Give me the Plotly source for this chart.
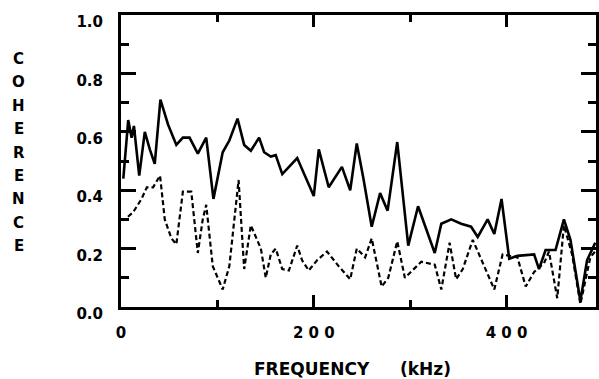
import plotly.graph_objects as go

# Coherence spectra, frequency in kHz
freq_solid = [2.4, 7.5, 11, 13.4, 18.9, 24.7, 29.9, 35, 40.9, 48.8, 57.4, 64.2, 71.1, 79.7,
              88.4, 95.9, 105.5, 112.4, 120.9, 127.8, 134.7, 143.3, 148.5, 155.4, 160.5,
              167.3, 182.8, 200, 205.2, 215.5, 229.2, 237.8, 244.6, 251.5, 260.1, 268.8,
              276.6, 286.6, 298, 308.2, 325.5, 332.3, 342.6, 352.9, 363.2, 370.1, 380.4,
              387.3, 394.8, 402.8, 411.3, 428.6, 433.7, 440.5, 450.8, 459.5, 466.3, 476.6,
              483.5, 492]
coh_solid = [0.44, 0.64, 0.58, 0.62, 0.45, 0.60, 0.54, 0.49, 0.71, 0.625, 0.555, 0.58, 0.58,
             0.525, 0.58, 0.37, 0.53, 0.57, 0.645, 0.555, 0.535, 0.58, 0.53, 0.515, 0.52,
             0.455, 0.51, 0.38, 0.54, 0.41, 0.48, 0.40, 0.56, 0.44, 0.275, 0.39, 0.33, 0.565,
             0.21, 0.345, 0.185, 0.285, 0.30, 0.285, 0.275, 0.24, 0.30, 0.25, 0.37, 0.165,
             0.175, 0.18, 0.13, 0.195, 0.195, 0.30, 0.23, 0.02, 0.16, 0.22]

freq_dashed = [0, 4.1, 12.7, 21.3, 26.8, 33.3, 40.5, 45.4, 52.3, 57.4, 64.2, 72.9, 79.7, 84.8,
               88.4, 95.2, 105.5, 112.4, 122, 127.8, 134.7, 145.1, 150.2, 155.4, 160.5, 167.3,
               174.2, 182.8, 187.9, 194.8, 203.4, 213.7, 225.8, 237.8, 244.6, 253.3, 260.1,
               270.4, 277.3, 286.6, 294.5, 311.6, 325.5, 332.3, 340.9, 347.7, 354.6, 364.9,
               373.5, 387.3, 395.9, 411.3, 419.9, 428.6, 438.9, 444, 452.6, 459.5, 468, 476.6,
               486.9, 491.8]
coh_dashed = [0.30, 0.30, 0.325, 0.37, 0.41, 0.41, 0.45, 0.30, 0.235, 0.215, 0.395, 0.395,
              0.185, 0.30, 0.35, 0.14, 0.06, 0.14, 0.435, 0.13, 0.28, 0.20, 0.10, 0.18, 0.20,
              0.13, 0.125, 0.21, 0.16, 0.125, 0.16, 0.19, 0.14, 0.095, 0.20, 0.17, 0.235,
              0.07, 0.10, 0.225, 0.10, 0.155, 0.145, 0.06, 0.22, 0.095, 0.13, 0.23, 0.165,
              0.06, 0.18, 0.17, 0.07, 0.12, 0.15, 0.19, 0.03, 0.28, 0.18, 0.01, 0.17, 0.19]

x_tickvals = [0, 200, 400]
x_ticktext = ["0", "2 0 0", "4 0 0"]
y_tickvals = [0.0, 0.2, 0.4, 0.6, 0.8, 1.0]
y_ticktext = ["0.0", "0.2", "0.4", "0.6", "0.8", "1.0"]
y_title = "COHERENCE"

FONT = "DejaVu Sans"

fig = go.Figure()
fig.add_trace(go.Scatter(x=freq_solid, y=coh_solid, mode="lines",
                         line=dict(color="black", width=2.6)))
fig.add_trace(go.Scatter(x=freq_dashed, y=coh_dashed, mode="lines",
                         line=dict(color="black", width=2.2, dash="5px,3px")))

fig.update_xaxes(range=[0, 492.8], tickvals=x_tickvals, ticktext=x_ticktext,
                 ticks="inside", ticklen=12, tickwidth=2.5, tickcolor="black",
                 minor=dict(dtick=100, ticks="inside", ticklen=7, tickwidth=2.5, tickcolor="black"),
                 showline=True, linewidth=3, linecolor="black", mirror="ticks",
                 showgrid=False, zeroline=False, ticklabelstandoff=10,
                 tickfont=dict(family=FONT, size=15, color="black", weight="bold"))
fig.update_yaxes(range=[0, 1.0], tickvals=y_tickvals, ticktext=y_ticktext,
                 ticks="inside", ticklen=15, tickwidth=2.5, tickcolor="black",
                 minor=dict(dtick=0.1, ticks="inside", ticklen=8, tickwidth=2.5, tickcolor="black"),
                 showline=True, linewidth=3, linecolor="black", mirror="ticks",
                 showgrid=False, zeroline=False, ticklabelstandoff=12, ticklabelshift=7,
                 ticklabeloverflow="allow",
                 tickfont=dict(family=FONT, size=15, color="black", weight="bold"))

annotations = []
# vertical stacked axis title
for i, ch in enumerate(y_title):
    annotations.append(dict(text=ch, xref="paper", yref="paper", x=-0.215,
                            y=1 - (44 + 23.4 * i) / 292, showarrow=False,
                            xanchor="center", yanchor="middle",
                            font=dict(family=FONT, size=15, color="black", weight="bold")))
annotations.append(dict(text="FREQUENCY", xref="paper", yref="paper",
                        x=(253 - 121) / 478, y=-(369 - 307) / 292, xanchor="left",
                        yanchor="middle", showarrow=False,
                        font=dict(family=FONT, size=17, color="black", weight="bold")))
annotations.append(dict(text="(kHz)", xref="paper", yref="paper",
                        x=(400 - 121) / 478, y=-(369 - 307) / 292, xanchor="left",
                        yanchor="middle", showarrow=False,
                        font=dict(family=FONT, size=17, color="black", weight="bold")))

fig.update_layout(width=599, height=379, margin=dict(l=121, r=0, t=15, b=72),
                  paper_bgcolor="white", plot_bgcolor="white", showlegend=False,
                  annotations=annotations)

fig.write_html("out.html")
